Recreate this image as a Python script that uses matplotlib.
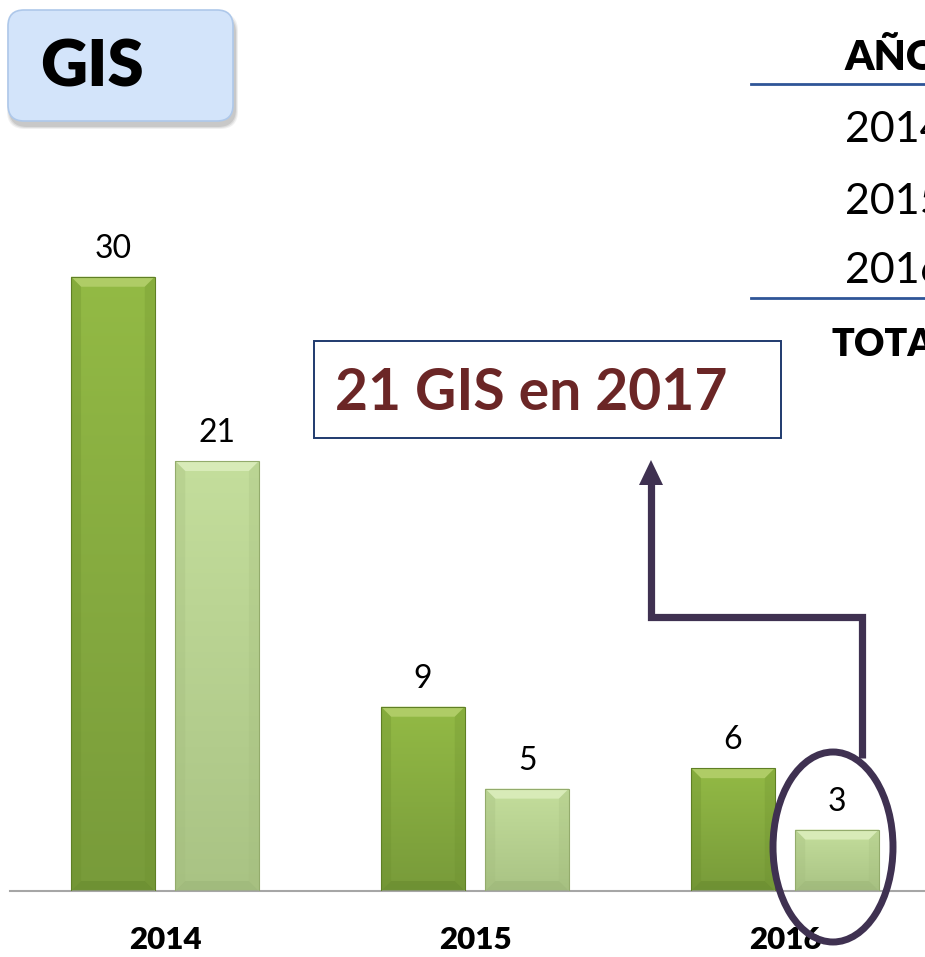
import numpy as np
import matplotlib
matplotlib.use("Agg")
import matplotlib.pyplot as plt
from matplotlib.colors import LinearSegmentedColormap
from matplotlib.patches import FancyBboxPatch, Rectangle, Ellipse, Polygon
from matplotlib.lines import Line2D

# ---------------- data ----------------
years = ["2014", "2015", "2016"]
series_a = [30, 9, 6]     # dark green bars
series_b = [21, 5, 3]     # light green bars
table_header = "AÑOS"
table_rows = ["2014", "2015", "2016"]
table_total = "TOTAL"
title = "GIS"
callout = "21 GIS en 2017"

W, H = 925, 957
fig = plt.figure(figsize=(W / 100, H / 100), dpi=100)
fig.patch.set_facecolor("white")
FONT = "Lato"

# ---------------- main bar axes ----------------
ax = fig.add_axes([10 / W, 66 / H, 915 / W, 819 / H])
ax.set_xlim(-0.5, 2.4516)
ax.set_ylim(0, 40)
ax.set_facecolor("none")
for s in ["top", "right", "left"]:
    ax.spines[s].set_visible(False)
ax.spines["bottom"].set_color("#a6a6a6")
ax.spines["bottom"].set_linewidth(1.5)
ax.set_yticks([])

x = np.arange(len(years))
bw = 0.27
off = 0.168
bars_a = ax.bar(x - off, series_a, bw, color="none", edgecolor="#5f7f25", linewidth=0.8, zorder=4)
bars_b = ax.bar(x + off, series_b, bw, color="none", edgecolor="#93ab6c", linewidth=0.8, zorder=4)

px_x = 1 / 310.0   # data units per pixel (x)
px_y = 40 / 819.0  # data units per pixel (y)


def shade(bar, c_top, c_bot, c_bev_top, c_bev_side, c_bev_bot):
    bx, by = bar.get_x(), bar.get_y()
    w, h = bar.get_width(), bar.get_height()
    grad = np.linspace(0, 1, 256).reshape(-1, 1)
    cmap = LinearSegmentedColormap.from_list("g", [c_bot, c_top])
    im = ax.imshow(grad, extent=[bx, bx + w, by, by + h], origin="lower",
                   cmap=cmap, aspect="auto", zorder=2)
    im.set_clip_path(bar)
    dx, dy = 10 * px_x, 10 * px_y
    dy = min(dy, h / 3)
    top = Polygon([(bx, by + h), (bx + w, by + h), (bx + w - dx, by + h - dy), (bx + dx, by + h - dy)],
                  closed=True, facecolor=c_bev_top, edgecolor="none", zorder=3)
    left = Polygon([(bx, by), (bx, by + h), (bx + dx, by + h - dy), (bx + dx, by + dy)],
                   closed=True, facecolor=c_bev_side, edgecolor="none", alpha=0.3, zorder=3)
    right = Polygon([(bx + w, by), (bx + w, by + h), (bx + w - dx, by + h - dy), (bx + w - dx, by + dy)],
                    closed=True, facecolor=c_bev_side, edgecolor="none", alpha=0.25, zorder=3)
    bot = Polygon([(bx, by), (bx + w, by), (bx + w - dx, by + dy), (bx + dx, by + dy)],
                  closed=True, facecolor=c_bev_bot, edgecolor="none", alpha=0.35, zorder=3)
    for p in (top, left, right, bot):
        ax.add_patch(p)


for b in bars_a:
    shade(b, "#93ba45", "#789b3a", "#afcc66", "#6a8d2c", "#5e7f26")
for b in bars_b:
    shade(b, "#c4de9c", "#a9c384", "#d8ebb8", "#a2bb7c", "#94ad70")

ax.set_xlim(-0.5, 2.4516)
ax.set_ylim(0, 40)

for bars, vals in ((bars_a, series_a), (bars_b, series_b)):
    for b, v in zip(bars, vals):
        ax.annotate(str(v), (b.get_x() + b.get_width() / 2, b.get_height()),
                    xytext=(0, 13.5), textcoords="offset points", ha="center", va="baseline",
                    fontsize=23, family=FONT, color="black", zorder=5)

ax.set_xticks(x)
ax.set_xticklabels(years, fontsize=22.5, fontweight="heavy", family=FONT)
ax.tick_params(axis="x", length=0, pad=25)

# ---------------- overlay (pixel coordinates) ----------------
ov = fig.add_axes([0, 0, 1, 1])
ov.set_xlim(0, W)
ov.set_ylim(H, 0)
ov.axis("off")
ov.patch.set_alpha(0)

# GIS title box with soft shadow
for i, a in enumerate([0.12, 0.18, 0.25]):
    g = 3 - i
    ov.add_patch(FancyBboxPatch((10 - g, 16 - g), 225 + 2 * g, 110 + 2 * g,
                                boxstyle="round,pad=0,rounding_size=18",
                                facecolor="#8a8a8a", edgecolor="none", alpha=a, zorder=1))
ov.add_patch(FancyBboxPatch((8, 10), 225, 111, boxstyle="round,pad=0,rounding_size=16",
                            facecolor="#d3e4fa", edgecolor="#aec8ea", linewidth=1.2, zorder=2))
ov.text(40, 68, title, fontsize=47, fontweight="heavy", family=FONT, color="black",
        ha="left", va="center", zorder=3)

# table on the right
ov.plot([751, 925], [84, 84], color="#2f5597", lw=2)
ov.plot([751, 925], [298, 298], color="#2f5597", lw=2)
ov.text(845, 58, table_header, fontsize=30, fontweight="heavy", family=FONT, ha="left", va="center")
for yy, t in zip([130, 202, 271], table_rows):
    ov.text(845, yy, t, fontsize=31, family=FONT, ha="left", va="center")
ov.text(832, 345, table_total, fontsize=27, fontweight="heavy", family=FONT, ha="left", va="center")

# callout box
ov.add_patch(Rectangle((314, 341), 467, 97, facecolor="white", edgecolor="#1f3a6e", linewidth=1.4, zorder=2))
ov.text(335, 393, callout, fontsize=41, fontweight="bold", family=FONT, color="#6b2626",
        ha="left", va="center", zorder=3)

# elbow arrow
acol = "#3f3151"
ov.add_line(Line2D([862, 862, 651, 651], [758, 617, 617, 482], color=acol, lw=5.2,
                   solid_joinstyle="miter", solid_capstyle="butt", zorder=6))
ov.add_patch(Polygon([(651, 460), (639, 485), (663, 485)], closed=True, facecolor=acol,
                     edgecolor="none", zorder=6))

# ellipse around the 2016 light bar
ov.add_patch(Ellipse((833, 847), 120, 190, facecolor="none", edgecolor=acol, linewidth=5, zorder=7))

fig.savefig("out.png", dpi=100, facecolor="white")
